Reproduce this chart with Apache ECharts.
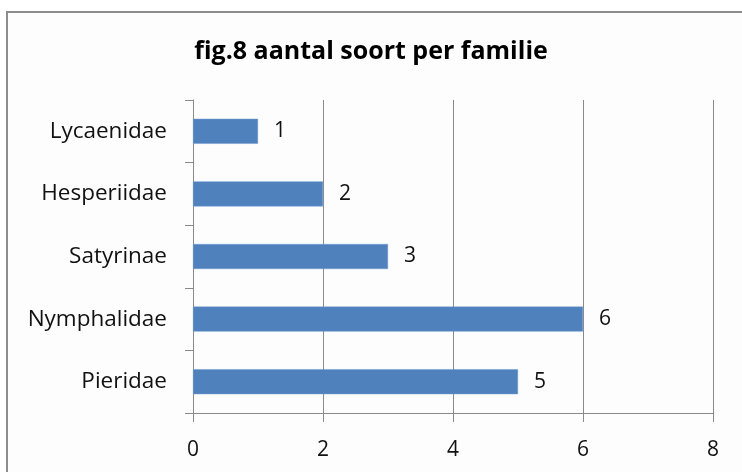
<!DOCTYPE html>
<html><head><meta charset="utf-8">
<script src="https://cdn.jsdelivr.net/npm/echarts@6/dist/echarts.min.js"></script>
<style>html,body{margin:0;padding:0;background:#fff}#c{width:742px;height:472px}</style>
</head><body><div id="c"></div>
<script>
const categories = ['Pieridae', 'Nymphalidae', 'Satyrinae', 'Hesperiidae', 'Lycaenidae'];
const values = [5, 6, 3, 2, 1];
const xTicks = [0, 2, 4, 6, 8];

const chart = echarts.init(document.getElementById('c'), null, {renderer: 'canvas'});
const font = '"Open Sans", "Noto Sans", sans-serif';
chart.setOption({
  animation: false,
  backgroundColor: '#ffffff',
  graphic: [{
    type: 'rect', z: -10, silent: true,
    shape: {x: 7, y: 12, width: 760, height: 480},
    style: {fill: '#fdfdfd', stroke: '#8c8c8c', lineWidth: 2}
  }],
  title: {
    text: 'fig.8 aantal soort per familie',
    left: 'center', top: 34,
    textStyle: {fontFamily: font, fontSize: 25, fontWeight: 'bold', color: '#000'}
  },
  grid: {left: 193, right: 29, top: 100, bottom: 59, containLabel: false},
  xAxis: {
    type: 'value', min: xTicks[0], max: xTicks[xTicks.length - 1], interval: 2,
    axisLine: {show: true, lineStyle: {color: '#8a8a8a'}},
    axisTick: {show: true, length: 9, lineStyle: {color: '#8a8a8a'}},
    axisLabel: {margin: 27, fontFamily: font, fontSize: 21, color: '#111'},
    splitLine: {show: true, lineStyle: {color: '#8a8a8a'}}
  },
  yAxis: {
    type: 'category', data: categories,
    axisLine: {show: true, lineStyle: {color: '#8a8a8a'}},
    axisTick: {show: true, length: 8, lineStyle: {color: '#8a8a8a'}},
    axisLabel: {margin: 26, fontFamily: font, fontSize: 22.5, color: '#111'}
  },
  series: [{
    type: 'bar', data: values, barWidth: 25,
    itemStyle: {color: '#4f81bd', borderColor: '#6f9ad0', borderWidth: 0.5},
    label: {show: true, position: 'right', distance: 16, fontFamily: font, fontSize: 21, color: '#111'}
  }]
});
</script></body></html>
